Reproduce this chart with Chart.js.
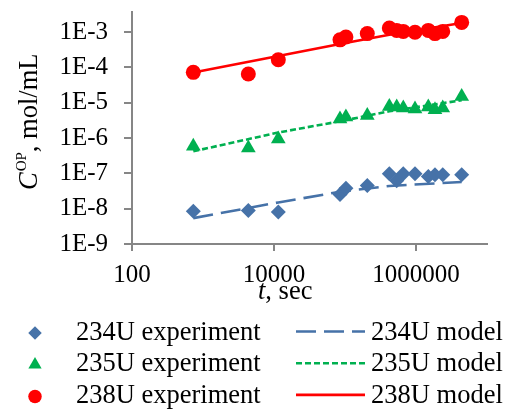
<!DOCTYPE html>
<html>
<head>
<meta charset="utf-8">
<script src="https://cdn.jsdelivr.net/npm/chart.js@4/dist/chart.umd.min.js"></script>
<style>
    body { margin: 0; background: #fff; }
    canvas { display: block; }
</style>
</head>
<body>
<canvas id="uChart" width="505" height="410"></canvas>
<script>
// Sampling times of the experiment, sec
const tExp = [730, 4350, 11500, 85000, 103000, 206000, 421000, 535000, 662000, 968000, 1490000, 1850000, 2380000, 4400000];

// Measured concentrations, mol/mL
const c234Exp = [8.4e-9, 8.9e-9, 8.0e-9, 2.5e-8, 3.8e-8, 4.5e-8, 9.7e-8, 6.2e-8, 9.7e-8, 9.7e-8, 8.2e-8, 9.1e-8, 9.1e-8, 9.1e-8];
const c235Exp = [5.8e-7, 5.2e-7, 9.4e-7, 3.45e-6, 3.9e-6, 4.3e-6, 7.8e-6, 7.5e-6, 7.1e-6, 6.6e-6, 7.5e-6, 6.3e-6, 7.1e-6, 1.5e-5];
const c238Exp = [7.2e-5, 6.5e-5, 1.64e-4, 6.0e-4, 7.2e-4, 9.0e-4, 1.3e-3, 1.11e-3, 1.04e-3, 9.8e-4, 1.11e-3, 9.0e-4, 1.04e-3, 1.87e-3];

// Model curves
const tModel = [730, 11500, 85000, 421000, 4400000];
const c234Model = [5.4e-9, 1.5e-8, 3.0e-8, 4.4e-8, 5.7e-8];
const c235Model = [4.2e-7, 1.43e-6, 2.97e-6, 5.7e-6, 1.17e-5];
const c238Model = [7.1e-5, 2.08e-4, 4.57e-4, 8.4e-4, 1.8e-3];

// Axis ticks
const xTicks = [100, 10000, 1000000];
const yTicks = [1e-9, 1e-8, 1e-7, 1e-6, 1e-5, 1e-4, 1e-3];

const blue = '#4672A8';
const green = '#00B050';
const red = '#FF0000';
const axisGray = '#868686';
const FONT = '"Liberation Serif", "Times New Roman", serif';

function toPoints(xs, ys) {
    return xs.map((x, i) => ({ x: x, y: ys[i] }));
}

function expSet(label, ys, color, style, radius) {
    return {
        label: label,
        data: toPoints(tExp, ys),
        showLine: false,
        pointStyle: style,
        pointRadius: radius,
        backgroundColor: color,
        borderColor: color,
        pointBorderWidth: 0,
        order: 1
    };
}

function modelSet(label, ys, color, dash) {
    return {
        label: label,
        data: toPoints(tModel, ys),
        showLine: true,
        pointRadius: 0,
        borderColor: color,
        borderWidth: 2.6,
        borderDash: dash,
        borderCapStyle: 'butt',
        fill: false,
        order: 0
    };
}

const datasets = [
    expSet('234U experiment', c234Exp, blue, 'rectRot', 7.5),
    expSet('235U experiment', c235Exp, green, 'triangle', 8.5),
    expSet('238U experiment', c238Exp, red, 'circle', 7.5),
    modelSet('234U model', c234Model, blue, [20, 8]),
    modelSet('235U model', c235Model, green, [6, 3]),
    modelSet('238U model', c238Model, red, [])
];

// Draw axis titles and the two-column legend
const extrasPlugin = {
    id: 'extras',
    afterDraw(chart) {
        const ctx = chart.ctx;
        ctx.save();
        ctx.fillStyle = '#000';
        ctx.textBaseline = 'alphabetic';

        // x title
        ctx.font = 'italic 26.5px ' + FONT;
        ctx.textAlign = 'left';
        let x = 258;
        ctx.fillText('t', x, 299);
        x += ctx.measureText('t').width;
        ctx.font = '26.5px ' + FONT;
        ctx.fillText(', sec', x, 299);

        // y title, rotated
        ctx.save();
        ctx.translate(37, 190);
        ctx.rotate(-Math.PI / 2);
        let p = 0;
        ctx.font = 'italic 26.5px ' + FONT;
        ctx.fillText('C', p, 0);
        p += ctx.measureText('C').width + 1;
        ctx.font = '15px ' + FONT;
        ctx.fillText('OP', p, -11);
        p += ctx.measureText('OP').width;
        ctx.font = '26.5px ' + FONT;
        ctx.fillText(', mol/mL', p, 0);
        ctx.restore();

        // legend
        const rows = [0, 1, 2];
        rows.forEach(r => {
            const exp = chart.data.datasets[r];
            const mod = chart.data.datasets[r + 3];
            const cy = 333 + r * 31.7;
            const base = 339.5 + r * 31.7;

            ctx.fillStyle = exp.backgroundColor;
            Chart.helpers.drawPoint(ctx, {
                pointStyle: exp.pointStyle,
                radius: exp.pointRadius * 0.9,
                rotation: 0,
                borderWidth: 0
            }, 35, cy);

            ctx.strokeStyle = mod.borderColor;
            ctx.lineWidth = mod.borderWidth;
            ctx.setLineDash(mod.borderDash);
            ctx.beginPath();
            ctx.moveTo(296, cy - 1.5);
            ctx.lineTo(365, cy - 1.5);
            ctx.stroke();
            ctx.setLineDash([]);

            ctx.fillStyle = '#000';
            ctx.font = '26.5px ' + FONT;
            ctx.fillText(exp.label, 76, base);
            ctx.fillText(mod.label, 371, base);
        });
        ctx.restore();
    }
};

function initChart() {
    const ctx = document.getElementById('uChart').getContext('2d');
    new Chart(ctx, {
        type: 'scatter',
        data: { datasets: datasets },
        options: {
            responsive: false,
            animation: false,
            devicePixelRatio: 1,
            layout: { padding: { left: 0, top: 12, right: 18, bottom: 126 } },
            plugins: {
                legend: { display: false },
                tooltip: { enabled: false }
            },
            scales: {
                x: {
                    type: 'logarithmic',
                    min: 100,
                    max: 1e7,
                    afterBuildTicks: scale => {
                        scale.ticks = xTicks.map(v => ({ value: v }));
                    },
                    afterFit: scale => {
                        scale.height = 40;
                        scale.paddingLeft = 0;
                        scale.paddingRight = 0;
                    },
                    ticks: {
                        color: '#000',
                        font: { family: FONT, size: 25 },
                        padding: 9,
                        maxRotation: 0,
                        callback: v => String(v)
                    },
                    grid: {
                        drawOnChartArea: false,
                        drawTicks: true,
                        tickLength: 7,
                        color: axisGray,
                        lineWidth: 2
                    },
                    border: { color: axisGray, width: 2 }
                },
                y: {
                    type: 'logarithmic',
                    min: 1e-9,
                    max: 3.68e-3,
                    afterBuildTicks: scale => {
                        scale.ticks = yTicks.map(v => ({ value: v }));
                    },
                    afterFit: scale => {
                        scale.width = 132;
                        scale.paddingTop = 0;
                        scale.paddingBottom = 0;
                    },
                    ticks: {
                        color: '#000',
                        font: { family: FONT, size: 25 },
                        padding: 16,
                        callback: v => '1E' + Math.round(Math.log10(v))
                    },
                    grid: {
                        drawOnChartArea: false,
                        drawTicks: true,
                        tickLength: 8,
                        color: axisGray,
                        lineWidth: 2
                    },
                    border: { color: axisGray, width: 2 }
                }
            }
        },
        plugins: [extrasPlugin]
    });
}

document.addEventListener('DOMContentLoaded', initChart);
</script>
</body>
</html>
